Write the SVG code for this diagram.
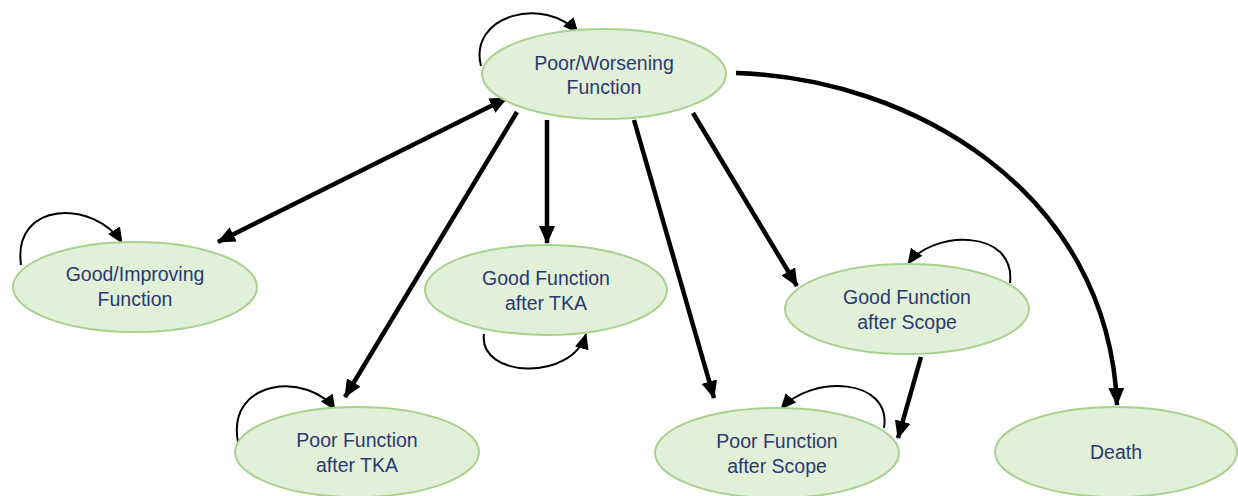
<svg xmlns="http://www.w3.org/2000/svg" width="1238" height="496" viewBox="0 0 1238 496">
<defs>
<style>
.node ellipse{fill:#e2efd9;stroke:#a9d18e;stroke-width:2}
.node text{font-family:"Liberation Sans",Arial,sans-serif;font-size:19.5px;fill:#2a3a70;text-anchor:middle}
.thick{fill:none;stroke:#000;stroke-width:4.5}
.thin{fill:none;stroke:#000;stroke-width:2}
</style>
<marker id="ah" markerUnits="userSpaceOnUse" markerWidth="18" markerHeight="16" refX="17" refY="8" orient="auto-start-reverse">
<path d="M0,0 L18,8 L0,16 z" fill="#000"/>
</marker>
<marker id="as" markerUnits="userSpaceOnUse" markerWidth="16" markerHeight="14" refX="15" refY="7" orient="auto">
<path d="M0,0 L16,7 L0,14 z" fill="#000"/>
</marker>
</defs>
<rect width="1238" height="496" fill="#fff"/>
<g id="connectors">
<path class="thick" d="M507,98 L218,242" marker-start="url(#ah)" marker-end="url(#ah)"/>
<path class="thick" d="M517,112 L345,397" marker-end="url(#ah)"/>
<path class="thick" d="M547,120 L547,243" marker-end="url(#ah)"/>
<path class="thick" d="M634,120 L714,398" marker-end="url(#ah)"/>
<path class="thick" d="M693,113 L797,286" marker-end="url(#ah)"/>
<path class="thick" d="M921,357 L898,438" marker-end="url(#ah)"/>
<path class="thick" d="M736,73 C 910,78 1108,190 1117,405" marker-end="url(#ah)"/>
<path class="thin" d="M481,66 C 468,15 545,-5 578,33" marker-end="url(#as)"/>
<path class="thin" d="M21,265 C 12,200 95,200 122,243" marker-end="url(#as)"/>
<path class="thin" d="M484,334 C 478,378 572,382 586,334" marker-end="url(#as)"/>
<path class="thin" d="M238,442 C 226,378 310,372 335,410" marker-end="url(#as)"/>
<path class="thin" d="M884,428 C 892,378 812,374 781,409" marker-end="url(#as)"/>
<path class="thin" d="M1010,283 C 1016,228 932,230 908,264" marker-end="url(#as)"/>
</g>
<g id="n-poor-worsening" class="node">
<ellipse cx="604" cy="74" rx="122" ry="45"/>
<text x="604" y="70">Poor/Worsening</text>
<text x="604" y="94">Function</text>
</g>
<g id="n-good-improving" class="node">
<ellipse cx="135" cy="287" rx="122" ry="45"/>
<text x="135" y="281">Good/Improving</text>
<text x="135" y="306">Function</text>
</g>
<g id="n-good-tka" class="node">
<ellipse cx="546" cy="290" rx="121" ry="45"/>
<text x="546" y="285">Good Function</text>
<text x="546" y="310">after TKA</text>
</g>
<g id="n-poor-tka" class="node">
<ellipse cx="357" cy="452" rx="122" ry="45"/>
<text x="357" y="447">Poor Function</text>
<text x="357" y="472">after TKA</text>
</g>
<g id="n-good-scope" class="node">
<ellipse cx="907" cy="309" rx="122" ry="45"/>
<text x="907" y="304">Good Function</text>
<text x="907" y="329">after Scope</text>
</g>
<g id="n-poor-scope" class="node">
<ellipse cx="777" cy="453" rx="122" ry="45"/>
<text x="777" y="448">Poor Function</text>
<text x="777" y="473">after Scope</text>
</g>
<g id="n-death" class="node">
<ellipse cx="1116" cy="452" rx="121" ry="45"/>
<text x="1116" y="459">Death</text>
</g>
</svg>
